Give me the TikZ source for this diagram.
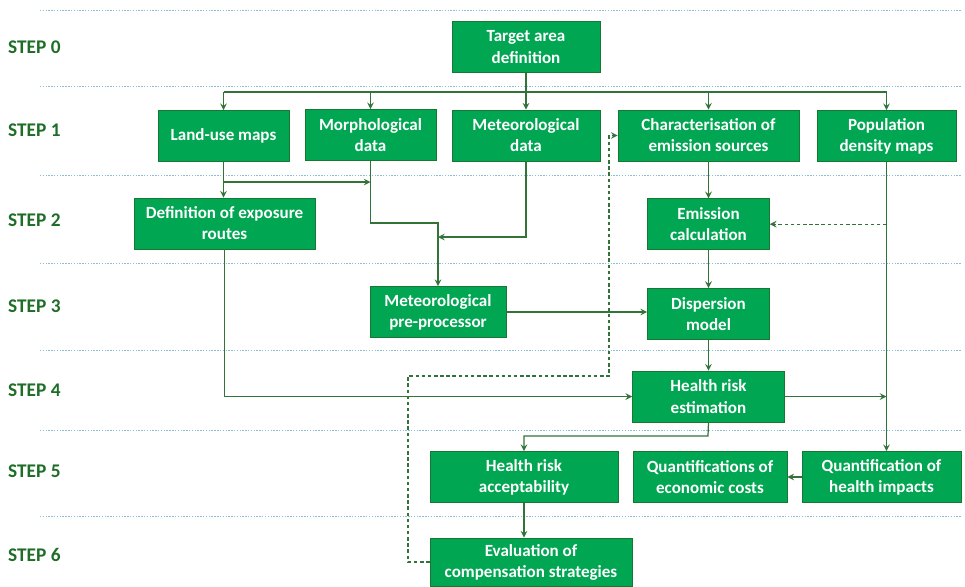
\documentclass[tikz,border=0pt]{standalone}
\usepackage{fontspec}
\setsansfont{Carlito}
\usetikzlibrary{arrows,positioning,calc}
\definecolor{boxgreen}{RGB}{0,166,81}
\definecolor{boxborder}{RGB}{24,120,50}
\definecolor{stepgreen}{RGB}{30,110,40}
\definecolor{linegreen}{RGB}{50,115,55}
\definecolor{sepblue}{RGB}{140,190,215}

\begin{document}
\begin{tikzpicture}[x=0.02cm, y=-0.02cm,
    box/.style={draw=boxborder, fill=boxgreen, text=white, align=center,
                minimum height=1.02cm, inner sep=2pt,
                font=\sffamily\bfseries\fontsize{9.7}{12}\selectfont},
    steplabel/.style={anchor=west, text=stepgreen, font=\sffamily\bfseries\fontsize{11}{12}\selectfont},
    sepline/.style={draw=sepblue, line width=0.5pt, dash pattern=on 0.8pt off 0.8pt},
    link/.style={draw=linegreen, line width=0.7pt},
    arrow/.style={link, ->, >=stealth},
    dasharrow/.style={link, dash pattern=on 2pt off 1.5pt, ->, >=stealth}
]
\useasboundingbox (0,0) rectangle (965,586);

% Separators between the steps
\draw[sepline] (40,10) -- (962,10);
\draw[sepline] (40,86) -- (962,86);
\draw[sepline] (40,175) -- (962,175);
\draw[sepline] (40,263) -- (962,263);
\draw[sepline] (40,350) -- (962,350);
\draw[sepline] (40,430) -- (962,430);
\draw[sepline] (40,516) -- (962,516);

% Step labels on the left
\node[steplabel] (step0) at (2,47) {STEP 0};
\node[steplabel] (step1) at (2,130) {STEP 1};
\node[steplabel] (step2) at (2,220) {STEP 2};
\node[steplabel] (step3) at (2,306) {STEP 3};
\node[steplabel] (step4) at (2,390) {STEP 4};
\node[steplabel] (step5) at (2,471) {STEP 5};
\node[steplabel] (step6) at (2,555) {STEP 6};

% Step 0 and step 1 boxes
\node[box, minimum width=2.96cm] (target) at (526,47) {Target area\\definition};
\node[box, minimum width=2.62cm] (landuse) at (223.5,136) {Land-use maps};
\node[box, minimum width=2.62cm] (morph) at (370.5,135) {Morphological\\data};
\node[box, minimum width=2.96cm] (metdata) at (526,135.5) {Meteorological\\data};
\node[box, minimum width=3.62cm] (charact) at (708.5,135.5) {Characterisation of\\emission sources};
\node[box, minimum width=2.78cm] (popmap) at (886.5,136) {Population\\density maps};

% Steps 2 to 4
\node[box, minimum width=3.62cm] (exposure) at (224.5,223.5) {Definition of exposure\\routes};
\node[box, minimum width=2.44cm, below=0.74cm of charact] (emission) {Emission\\calculation};
\node[box, minimum width=2.72cm] (metpre) at (438,312) {Meteorological\\pre-processor};
\node[box, minimum width=2.44cm, below=0.76cm of emission] (dispersion) {Dispersion\\model};
\node[box, minimum width=3.04cm, below=0.62cm of dispersion] (hrest) {Health risk\\estimation};

% Steps 5 and 6
\node[box, minimum width=3.76cm] (hraccept) at (524,477) {Health risk\\acceptability};
\node[box, minimum width=3.08cm] (econ) at (710,477) {Quantifications of\\economic costs};
\node[box, minimum width=3.18cm] (healthimp) at (881.5,477) {Quantification of\\health impacts};
\node[box, minimum width=4.04cm, minimum height=0.96cm] (evaluation) at (531,562) {Evaluation of\\compensation strategies};

% Distribution line from the target area
\coordinate (bus) at (526,92);
\draw[arrow] (target.south) -- (metdata.north);
\draw[link] (landuse.north |- bus) -- (popmap.north |- bus);
\draw[arrow] (landuse.north |- bus) -- (landuse.north);
\draw[arrow] (morph.north |- bus) -- (morph.north);
\draw[arrow] (charact.north |- bus) -- (charact.north);
\draw[arrow] (popmap.north |- bus) -- (popmap.north);

% Land-use and morphological data
\coordinate (lubranch) at (223.5,182);
\coordinate (morphbend) at (438,223);
\coordinate (metjoin) at (438,237);
\draw[arrow] (landuse.south) -- (landuse.south |- exposure.north);
\draw[arrow] (lubranch) -- (lubranch -| morph.south);
\draw[arrow] (morph.south) |- (morphbend) -- (metpre.north);
\draw[arrow] (metdata.south) |- (metjoin);

% Emission chain
\draw[arrow] (charact.south) -- (emission.north);
\draw[arrow] (emission.south) -- (dispersion.north);
\draw[arrow] (metpre.east) -- (metpre.east -| dispersion.west);
\draw[arrow] (dispersion.south) -- (hrest.north);
\draw[arrow] (exposure.south) |- (hrest.west);

% Population density
\coordinate (popdash) at (popmap.south |- emission.east);
\draw[arrow] (popmap.south) -- (popmap.south |- healthimp.north);
\draw[dasharrow] (popdash) -- (emission.east);
\draw[arrow] (hrest.east) -- (hrest.east -| popmap.south);

% Health risk evaluation
\coordinate (hrbend) at (708,436);
\draw[arrow] (hrest.south) -- (hrbend) -| (hraccept.north);
\draw[arrow] (healthimp.west) -- (econ.east);
\draw[arrow] (hraccept.south) -- (hraccept.south |- evaluation.north);

% Feedback from compensation strategies
\coordinate (fbleft) at (408,376);
\coordinate (fbright) at (609,376);
\draw[dasharrow] (evaluation.west) -| (fbleft) -- (fbright) |- (charact.west);

\end{tikzpicture}
\end{document}
